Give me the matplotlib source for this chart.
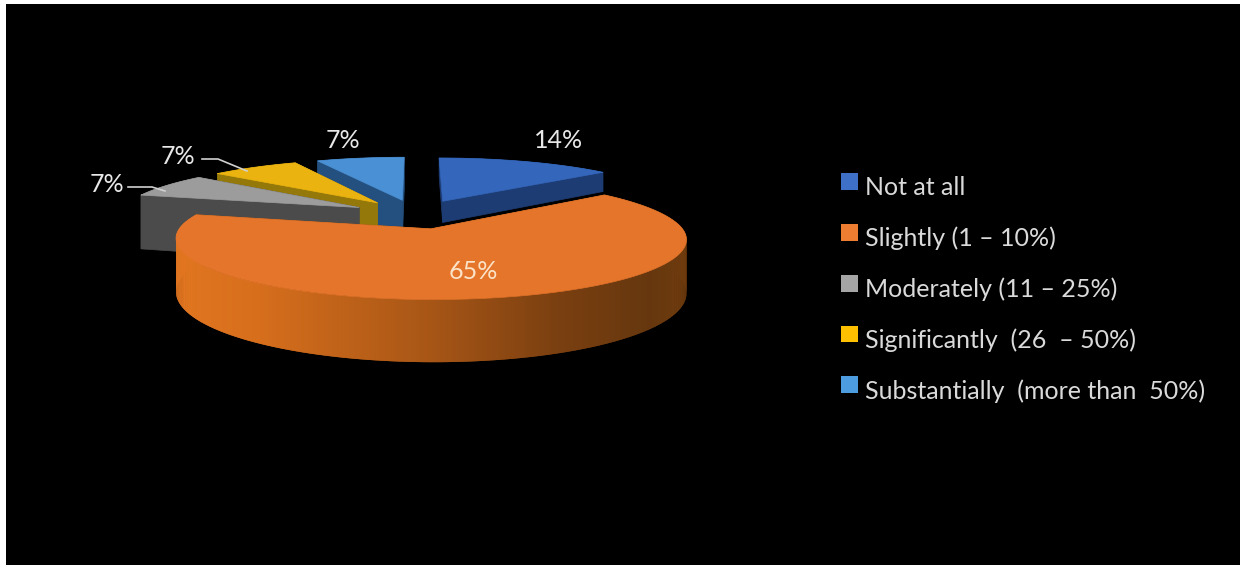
import numpy as np
import matplotlib
matplotlib.use('Agg')
import matplotlib.pyplot as plt
from matplotlib.legend_handler import HandlerPatch
from matplotlib.patches import Polygon, Patch, Rectangle

labels = ['Not at all', 'Slightly (1 – 10%)', 'Moderately (11 – 25%)',
          'Significantly  (26  – 50%)', 'Substantially  (more than  50%)']
values = [14, 65, 7, 7, 7]
value_labels = ['14%', '65%', '7%', '7%', '7%']

top_colors = ['#3467BC', '#E5752A', '#9C9C9C', '#EBB30F', '#4A90D4']
side_colors = ['#1E3C74', '#8A4A12', '#4B4B4B', '#94780A', '#24507F']
legend_colors = ['#3F70C8', '#ED7D31', '#A5A5A5', '#FFC000', '#4E9CE0']
depths = [22, 50, 57, 40, 40]

# camera for the tilted pie, in pixels
cx, cy = 416, 214
rx, ry = 241, 54
persp = 0.16
explode = 0.27


def project(x, y, z=0):
    s = 1 / (1 + persp * y)
    return cx + rx * x * s, cy - ry * y * s + z * s


def slice_outline(a0, a1, n):
    mid = np.radians((a0 + a1) / 2)
    ox, oy = explode * np.sin(mid), explode * np.cos(mid)
    t = np.radians(np.linspace(a0, a1, n))
    return ox, oy, ox + np.sin(t), oy + np.cos(t)


def orange_shade(u):
    # the long front wall runs from lit on the left to dark on the right
    stops = [175, 260, 430, 560, 650, 684]
    r = np.interp(u, stops, [226, 214, 168, 122, 102, 110])
    g = np.interp(u, stops, [118, 110, 86, 63, 55, 59])
    b = np.interp(u, stops, [32, 28, 22, 16, 14, 14])
    return (r / 255, g / 255, b / 255)


def raised_square(legend, orig_handle, xdescent, ydescent, width, height, fontsize):
    # swatches sit a little above the middle of the text line
    return Rectangle((-xdescent, -ydescent + 3.6), width, height)


fig = plt.figure(figsize=(12.4, 5.65), dpi=100, facecolor='white')
ax = fig.add_axes([6 / 1240, 0, 1234 / 1240, 561 / 565], facecolor='black')
ax.set_xlim(6, 1240)
ax.set_ylim(565, 4)
ax.axis('off')
ax.add_patch(Rectangle((6, 4), 1234, 561, color='black', zorder=0))

edges = np.concatenate([[0], np.cumsum(values)]) * 360 / sum(values)

# back slices first, the big one last so it sits in front
for i in [4, 3, 2, 0, 1]:
    a0, a1 = edges[i], edges[i + 1]
    n = max(int(a1 - a0) * 2, 8)
    ox, oy, xs, ys = slice_outline(a0, a1, n)
    d = depths[i]

    for ex, ey in [(xs[0], ys[0]), (xs[-1], ys[-1])]:
        wall = [project(ox, oy), project(ex, ey), project(ex, ey, d), project(ox, oy, d)]
        ax.add_patch(Polygon(wall, closed=True, fc=side_colors[i], ec=side_colors[i], lw=0.5))

    # neighbouring strips overlap by one step so no seams show
    for j in range(n - 1):
        k = min(j + 2, n - 1)
        quad = [project(xs[j], ys[j]), project(xs[k], ys[k]),
                project(xs[k], ys[k], d), project(xs[j], ys[j], d)]
        col = orange_shade(quad[0][0]) if i == 1 else side_colors[i]
        ax.add_patch(Polygon(quad, closed=True, fc=col, ec='none'))

    face = [project(ox, oy)] + [project(x, y) for x, y in zip(xs, ys)]
    ax.add_patch(Polygon(face, closed=True, fc=top_colors[i], ec=top_colors[i], lw=0.5))

# value labels
label_pos = [(559, 141), (473, 272), (107, 184), (178, 156), (343, 141)]
for (x, y), txt, col in zip(label_pos, value_labels,
                            ['#E8E8E8', '#FBE3C8', '#E8E8E8', '#E8E8E8', '#E8E8E8']):
    ax.text(x, y, txt, color=col, fontsize=18, family='Lato', ha='center', va='center')

# leader lines for the two small outer labels
ax.plot([128, 152, 165], [187, 187, 191], color='#D0D0D0', lw=1.2)
ax.plot([202, 218, 247], [159, 159, 171], color='#D0D0D0', lw=1.2)

handles = [Patch(fc=c, ec='none', label=l) for c, l in zip(legend_colors, labels)]
leg = ax.legend(handles=handles, loc='upper left', bbox_to_anchor=(841 / 1240, 0.688),
                bbox_transform=fig.transFigure, frameon=False,
                labelcolor='#DADADA', handlelength=0.66, handleheight=0.66,
                handletextpad=0.30, labelspacing=1.09, borderaxespad=0, borderpad=0,
                prop={'family': 'Lato', 'size': 18},
                handler_map={Patch: HandlerPatch(patch_func=raised_square)})

fig.savefig('out.png', dpi=100, facecolor=fig.get_facecolor())
